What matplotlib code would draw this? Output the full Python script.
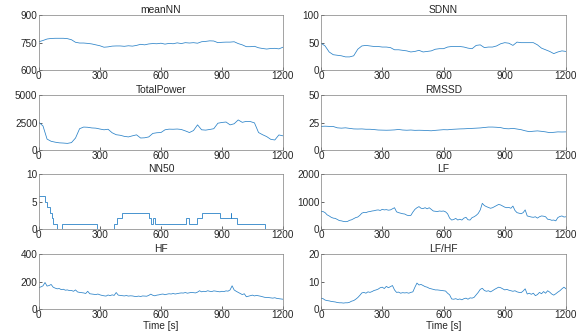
import numpy as np
import matplotlib
matplotlib.use('Agg')
import matplotlib.pyplot as plt

plt.rcParams['font.family'] = ['Liberation Sans', 'DejaVu Sans']
plt.rcParams['font.size'] = 7.2

# --- data (time in seconds) ---
mean_nn = [755, 762, 770, 773, 774, 774, 774, 772, 766, 752, 748, 748, 746, 743, 738, 733,
           725, 727, 731, 732, 732, 730, 733, 731, 735, 741, 738, 743, 745, 744, 747, 742,
           746, 744, 749, 745, 750, 748, 750, 747, 755, 757, 760, 759, 750, 752, 753, 753,
           755, 745, 738, 728, 728, 730, 722, 718, 715, 718, 719, 716, 725]

sdnn = [49, 44, 33, 28, 27, 26, 24, 24, 26, 38, 44, 45, 44, 43, 43, 42, 42, 41, 37, 37,
        36, 35, 33, 34, 36, 33, 34, 35, 38, 39, 39, 42, 43, 43, 43, 42, 40, 39, 45, 46,
        41, 42, 42, 44, 48, 50, 49, 45, 51, 50, 50, 50, 50, 46, 40, 37, 34, 30, 33, 35, 34]

total_power = [2530, 2200, 1000, 800, 720, 660, 640, 610, 680, 1100, 1950, 2100, 2080, 2020,
               2000, 1920, 1850, 1900, 1580, 1400, 1350, 1250, 1200, 1300, 1390, 1100, 1120,
               1200, 1520, 1580, 1600, 1850, 1910, 1900, 1920, 1880, 1750, 1600, 1780, 2300,
               1850, 1820, 1880, 1950, 2450, 2520, 2560, 2300, 2400, 2750, 2530, 2620, 2600,
               2480, 1600, 1400, 1230, 980, 920, 1380, 1300]

rmssd = [21.6, 21.8, 21.6, 21.5, 20.3, 20.0, 20.3, 19.8, 19.3, 19.2, 19.3, 19.0, 19.0, 18.7,
         18.3, 18.2, 18.1, 18.2, 18.4, 18.8, 18.3, 18.1, 18.3, 18.0, 18.1, 18.0, 17.8, 17.6,
         18.0, 18.3, 18.6, 18.5, 18.9, 19.1, 19.3, 19.4, 19.6, 19.8, 20.0, 20.2, 20.6, 21.0,
         21.0, 20.8, 20.5, 19.6, 19.4, 19.8, 19.2, 18.6, 17.6, 16.8, 17.2, 17.5, 17.1, 16.6,
         15.9, 16.2, 16.6, 16.5, 16.6]

nn50_edges = [0, 30, 42, 52, 62, 70, 90, 112, 288, 368, 385, 410, 540, 553, 562, 571, 725,
              737, 775, 800, 890, 943, 947, 975, 1113, 1200]
nn50_vals = [6, 5, 4, 3, 2, 1, 0, 1, 0, 1, 2, 3, 2, 1, 2, 1, 2, 1, 2, 3, 2, 3, 2, 1, 0]

lf = [634, 640, 600, 520, 480, 430, 400, 390, 350, 310, 300, 280, 270, 280, 320, 340, 380,
      420, 440, 500, 580, 610, 600, 630, 640, 660, 670, 690, 700, 680, 720, 700, 710, 690,
      700, 740, 780, 630, 600, 580, 560, 550, 510, 490, 500, 620, 720, 780, 820, 760, 750,
      780, 740, 780, 720, 660, 650, 640, 660, 650, 660, 630, 560, 400, 330, 350, 390, 330,
      360, 330, 400, 430, 340, 330, 420, 450, 500, 570, 700, 940, 860, 820, 790, 760, 780,
      820, 860, 900, 880, 840, 800, 780, 790, 760, 840, 680, 600, 580, 560, 600, 700, 480,
      460, 440, 430, 450, 400, 450, 480, 470, 450, 360, 350, 320, 330, 300, 420, 460, 480,
      440, 450]

hf = [158, 162, 170, 194, 168, 172, 180, 160, 153, 148, 150, 142, 145, 138, 140, 135, 136,
      130, 140, 125, 122, 120, 118, 114, 130, 112, 110, 108, 106, 110, 104, 100, 97, 95, 103,
      98, 104, 100, 121, 102, 100, 98, 96, 99, 95, 97, 96, 93, 92, 95, 92, 96, 95, 94, 100,
      109, 101, 97, 102, 104, 108, 110, 105, 109, 112, 110, 114, 110, 113, 116, 118, 117,
      121, 116, 119, 122, 120, 118, 124, 134, 126, 130, 128, 134, 130, 128, 133, 131, 128,
      126, 130, 128, 133, 131, 140, 170, 140, 130, 122, 114, 106, 112, 90, 94, 98, 102, 96,
      100, 97, 94, 90, 86, 85, 84, 82, 80, 83, 78, 76, 74, 72]

lf_hf = [4.0, 3.8, 3.3, 3.1, 3.0, 2.8, 2.7, 2.6, 2.4, 2.3, 2.3, 2.2, 2.3, 2.3, 2.5, 2.9, 3.1,
         3.6, 4.2, 5.0, 5.9, 6.1, 5.8, 6.3, 6.1, 6.4, 6.8, 7.0, 7.3, 7.8, 8.0, 7.5, 8.3, 7.8,
         8.2, 8.6, 7.0, 6.1, 6.2, 5.8, 6.0, 5.9, 6.0, 5.8, 6.1, 6.3, 8.0, 9.5, 8.8, 9.0, 8.6,
         8.2, 8.0, 7.6, 7.4, 7.2, 7.0, 7.0, 6.9, 6.8, 6.7, 6.6, 5.8, 5.2, 3.7, 3.6, 3.8, 3.5,
         3.7, 3.4, 3.8, 4.0, 3.6, 4.1, 4.0, 4.3, 5.2, 6.1, 7.2, 7.6, 6.8, 6.5, 6.7, 6.3, 6.7,
         7.2, 7.6, 8.0, 7.8, 7.4, 7.0, 7.2, 6.9, 6.7, 6.5, 6.7, 6.3, 6.1, 6.0, 6.6, 7.4, 5.5,
         5.8, 5.4, 5.8, 4.9, 5.3, 6.1, 5.6, 6.4, 5.8, 6.7, 6.2, 5.5, 5.1, 5.6, 6.2, 6.7, 7.4,
         8.0, 7.4]

x_ticks = [0, 300, 600, 900, 1200]

panels = [
    ('meanNN', mean_nn, [600, 750, 900]),
    ('SDNN', sdnn, [0, 50, 100]),
    ('TotalPower', total_power, [0, 2500, 5000]),
    ('RMSSD', rmssd, [0, 25, 50]),
    ('NN50', None, [0, 5, 10]),
    ('LF', lf, [0, 1000, 2000]),
    ('HF', hf, [0, 200, 400]),
    ('LF/HF', lf_hf, [0, 10, 20]),
]

fig = plt.figure(figsize=(5.81, 3.32), dpi=100)
lefts = [0.067, 0.5525]
widths = [0.420, 0.4217]
bottoms = [0.789, 0.548, 0.310, 0.069]
line_color = '#2a82c8'

for i, (name, vals, yt) in enumerate(panels):
    row, col = divmod(i, 2)
    ax = fig.add_axes([lefts[col], bottoms[row], widths[col], 0.165])
    if vals is None:
        ax.stairs(nn50_vals, nn50_edges, color=line_color, lw=0.6, baseline=None)
    else:
        t = np.linspace(0, 1200, len(vals))
        ax.plot(t, vals, color=line_color, lw=0.55)
    ax.set_xlim(0, 1200)
    ax.set_ylim(yt[0], yt[-1])
    ax.set_xticks(x_ticks)
    ax.set_yticks(yt)
    ax.tick_params(direction='in', length=2.5, width=0.5, pad=1, colors='#262626')
    for s in ax.spines.values():
        s.set_linewidth(0.5)
        s.set_color('#7f7f7f')
    ax.set_title(name, pad=1.5, fontsize=7.4, color='#262626')
    if row == 3:
        ax.set_xlabel('Time [s]', labelpad=0.5, color='#262626')

fig.savefig('out.png', dpi=100)
